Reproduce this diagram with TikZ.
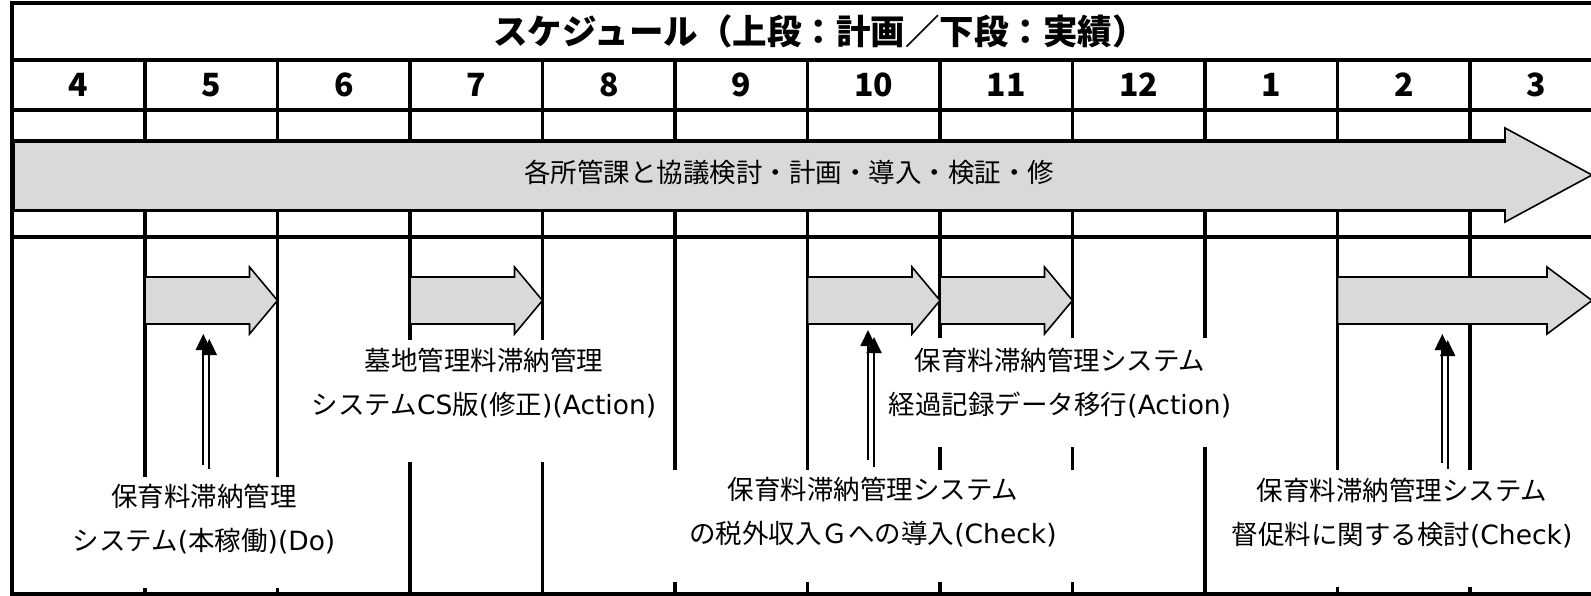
\documentclass[tikz,border=0pt]{standalone}
\usepackage{fontspec}
\setmainfont{Noto Sans CJK JP}
\newfontfamily\latinfont{DejaVu Sans}
\usetikzlibrary{arrows.meta}
\newcommand\lt[1]{{\latinfont #1}}
\definecolor{arrowgray}{HTML}{D9D9D9}
\begin{document}
\begin{tikzpicture}[x=1pt,y=-1pt,
  grid/.style={line width=3.2pt, draw=black},
  blockarrow/.style={fill=arrowgray, draw=black, line width=1.6pt, line join=miter},
  whitebox/.style={fill=white, draw=none, inner sep=0pt, anchor=north west},
  lbl/.style={font=\fontsize{26.5}{44}\selectfont, align=center, inner sep=0pt},
  titletext/.style={font=\fontsize{34.5}{40}\selectfont\bfseries, inner sep=0pt},
  monthnum/.style={font=\fontsize{32}{36}\selectfont\bfseries, inner sep=0pt},
  uparrow/.style={-{Triangle[width=15pt,length=16pt]}, line width=1.8pt},
]
\useasboundingbox (0,0) rectangle (1591,596);
% ---- grid ----
\draw[grid] (10.4,3) -- (1600,3);
\draw[grid] (12,1.5) -- (12,596);
\draw[grid] (12,60) -- (1600,60);
\draw[grid] (12,110) -- (1600,110);
\draw[grid] (12,141) -- (1505,141);
\draw[grid] (12,210) -- (1505,210);
\draw[grid, line width=4.5pt] (12,237) -- (1600,237);
\draw[grid] (12,594) -- (1600,594);
\foreach \i in {0,...,10} \draw[grid] ({145+132.5*\i},60) -- ({145+132.5*\i},596);
% ---- title and months ----
\node[titletext] (title) at (820,31) {スケジュール（上段：計画／下段：実績）};
\node[monthnum] (m4) at (78.5,85) {4};
\foreach \n [count=\k] in {5,6,7,8,9,10,11,12,1,2,3}
  \node[monthnum] (m\n) at ({145+132.5*(\k-1)+66.25},85) {\n};
% ---- big plan arrow ----
\draw[blockarrow] (14,142) -- (1505,142) -- (1505,128) -- (1592,175) -- (1505,222) -- (1505,210) -- (14,210) -- cycle;
\node[lbl] (plan) at (789,172) {各所管課と協議検討・計画・導入・検証・修};
% ---- small result arrows ----
\foreach \a/\b in {145/277.5, 410/542.5, 807.5/940, 940/1072.5}
  \draw[blockarrow] (\a,277) -- ({\b-28},277) -- ({\b-28},267) -- (\b,300.5) -- ({\b-28},334) -- ({\b-28},324) -- (\a,324) -- cycle;
\draw[blockarrow] (1337.5,277) -- (1547,277) -- (1547,267) -- (1592,300.5) -- (1547,334) -- (1547,324) -- (1337.5,324) -- cycle;
% ---- label backgrounds ----
\node[whitebox, minimum width=290pt, minimum height=111pt] (boxA) at (60,477) {};
\node[whitebox, minimum width=368pt, minimum height=122pt] (boxB) at (300,340) {};
\node[whitebox, minimum width=426pt, minimum height=112pt] (boxC) at (662,470) {};
\node[whitebox, minimum width=360pt, minimum height=109pt] (boxD) at (880,338) {};
\node[whitebox, minimum width=380pt, minimum height=117pt] (boxE) at (1220,470) {};
% ---- labels ----
\node[lbl] (labA) at (204,519) {保育料滞納管理\\システム\lt{(}本稼働\lt{)(Do)}};
\node[lbl] (labB) at (484,383.5) {墓地管理料滞納管理\\システム\lt{CS}版\lt{(}修正\lt{)(Action)}};
\node[lbl] (labC) at (873,512.5) {保育料滞納管理システム\\の税外収入Ｇへの導入\lt{(Check)}};
\node[lbl] (labD) at (1060,383) {保育料滞納管理システム\\経過記録データ移行\lt{(Action)}};
\node[lbl] (labE) at (1402,513.5) {保育料滞納管理システム\\督促料に関する検討\lt{(Check)}};
% ---- up arrows ----
\coordinate (u1a) at (203.3,465); \coordinate (u1at) at (203.3,334);
\coordinate (u1b) at (209.3,469); \coordinate (u1bt) at (209.3,339);
\coordinate (u2a) at (868,460);   \coordinate (u2at) at (868,330);
\coordinate (u2b) at (874,467);   \coordinate (u2bt) at (874,337);
\coordinate (u3a) at (1442.3,463); \coordinate (u3at) at (1442.3,334);
\coordinate (u3b) at (1447.7,469); \coordinate (u3bt) at (1447.7,340);
\draw[uparrow] (u1a) -- (u1at);
\draw[uparrow] (u1b) -- (u1bt);
\draw[uparrow] (u2a) -- (u2at);
\draw[uparrow] (u2b) -- (u2bt);
\draw[uparrow] (u3a) -- (u3at);
\draw[uparrow] (u3b) -- (u3bt);
\end{tikzpicture}
\end{document}
